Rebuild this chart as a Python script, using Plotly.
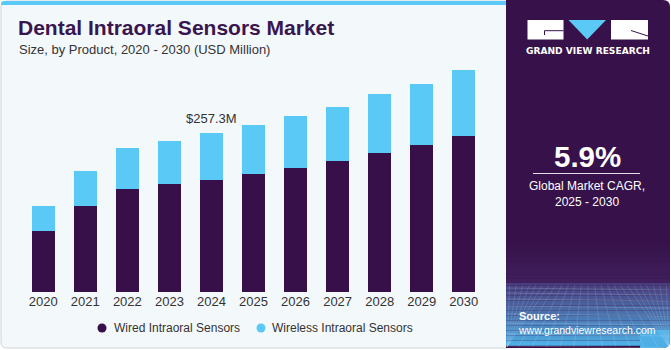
import plotly.graph_objects as go

# ---------------- data ----------------
years = ["2020", "2021", "2022", "2023", "2024", "2025", "2026", "2027", "2028", "2029", "2030"]
wired = [98.9, 139.9, 167.0, 174.6, 182.1, 191.8, 201.5, 212.9, 225.8, 237.8, 252.9]
wireless = [40.5, 55.7, 66.4, 70.2, 75.2, 78.4, 83.3, 87.0, 94.7, 99.4, 106.5]
series_names = ["Wired Intraoral Sensors", "Wireless Intraoral Sensors"]
highlight_year = "2024"

W, H = 671, 350
C_WIRED = "#37104a"
C_WIRELESS = "#5bc9f6"
C_PANEL = "#37124a"
C_BG = "#f3f8fb"


def px(x):
    return x / W


def py(y):
    return 1 - y / H


def rpath(x0, y0, x1, y1, r, tl=True, tr=True, br=True, bl=True):
    def P(x, y):
        return f"{px(x):.5f},{py(y):.5f}"
    s = f"M {P(x0 + (r if tl else 0), y0)} "
    s += f"L {P(x1 - (r if tr else 0), y0)} "
    if tr:
        s += f"Q {P(x1, y0)} {P(x1, y0 + r)} "
    s += f"L {P(x1, y1 - (r if br else 0))} "
    if br:
        s += f"Q {P(x1, y1)} {P(x1 - r, y1)} "
    s += f"L {P(x0 + (r if bl else 0), y1)} "
    if bl:
        s += f"Q {P(x0, y1)} {P(x0, y1 - r)} "
    s += f"L {P(x0, y0 + (r if tl else 0))} "
    if tl:
        s += f"Q {P(x0, y0)} {P(x0 + r, y0)} "
    s += "Z"
    return s


def mix(c1, c2, t):
    a = [int(c1[i:i + 2], 16) for i in (1, 3, 5)]
    b = [int(c2[i:i + 2], 16) for i in (1, 3, 5)]
    return "#" + "".join(f"{round(a[k] + (b[k] - a[k]) * t):02x}" for k in range(3))


fig = go.Figure()
fig.add_trace(go.Bar(x=years, y=wired, name=series_names[0], marker=dict(color=C_WIRED, line=dict(width=0)),
                     showlegend=False))
fig.add_trace(go.Bar(x=years, y=wireless, name=series_names[1], marker=dict(color=C_WIRELESS, line=dict(width=0)),
                     showlegend=False))

shapes = []
# card background (left)
shapes.append(dict(type="path", path=rpath(1, 1, 512, 348, 6), xref="paper", yref="paper",
                   fillcolor=C_BG, line=dict(color="#cfd4d8", width=1), layer="below"))
# top blue stripe
shapes.append(dict(type="path", path=rpath(1, 1, 512, 5, 3, br=False, bl=False), xref="paper", yref="paper",
                   fillcolor=C_WIRELESS, line=dict(width=0), layer="below"))
# right panel
shapes.append(dict(type="path", path=rpath(506, 0, 670, 348, 7, tl=False, bl=False), xref="paper", yref="paper",
                   fillcolor=C_PANEL, line=dict(width=0), layer="below"))
# gradient bands on right panel
n1 = 10
for i in range(n1):
    y0 = 240 + i * 4.3
    shapes.append(dict(type="rect", x0=px(506), x1=px(670), y0=py(y0), y1=py(y0 + 4.4), xref="paper", yref="paper",
                       fillcolor=mix(C_PANEL, "#3f1f5c", i / (n1 - 1)), line=dict(width=0), layer="below"))
n2 = 26
for i in range(n2):
    y0 = 283 + i * 2.5
    y1 = min(y0 + 2.6, 348 - (6 if i == n2 - 1 else 0))
    shapes.append(dict(type="rect", x0=px(506), x1=px(670 - (0 if i < n2 - 2 else 3)), y0=py(y0), y1=py(y1),
                       xref="paper", yref="paper",
                       fillcolor=mix("#483c7c", "#4eafe6", i / (n2 - 1)), line=dict(width=0), layer="below"))
# rounded bottom-right corner cap
shapes.append(dict(type="path", path=rpath(640, 330, 670, 348, 7, tl=False, tr=False, bl=False), xref="paper",
                   yref="paper", fillcolor="#4eafe6", line=dict(width=0), layer="below"))
# grid texture
for yy in [288, 293, 299, 306, 314, 323, 334, 346]:
    shapes.append(dict(type="line", x0=px(507), x1=px(669), y0=py(yy), y1=py(yy + 2), xref="paper", yref="paper",
                       line=dict(color="rgba(255,255,255,0.16)", width=1), layer="below"))
vx, vy = 588, 230
for xb in range(420, 760, 14):
    t = (285 - vy) / (348 - vy)
    xt = vx + (xb - vx) * t
    shapes.append(dict(type="line", x0=px(max(507, min(669, xt))), x1=px(max(507, min(669, xb))),
                       y0=py(285), y1=py(347), xref="paper", yref="paper",
                       line=dict(color="rgba(255,255,255,0.12)", width=1), layer="below"))
# logo
shapes.append(dict(type="rect", x0=px(527.5), x1=px(563.5), y0=py(20), y1=py(39.5), xref="paper", yref="paper",
                   fillcolor="white", line=dict(width=0)))
shapes.append(dict(type="path", path=f"M {px(568.5)},{py(20)} L {px(606)},{py(20)} L {px(587.2)},{py(39.5)} Z",
                   xref="paper", yref="paper", fillcolor=C_WIRELESS, line=dict(width=0)))
shapes.append(dict(type="rect", x0=px(611), x1=px(648), y0=py(20), y1=py(39.5), xref="paper", yref="paper",
                   fillcolor="white", line=dict(width=0)))
shapes.append(dict(type="path", path=f"M {px(544.5)},{py(35)} L {px(544.5)},{py(30.7)} L {px(563.5)},{py(30.7)}",
                   xref="paper", yref="paper", line=dict(color=C_PANEL, width=1)))
shapes.append(dict(type="line", x0=px(631), y0=py(30.5), x1=px(648), y1=py(36), xref="paper", yref="paper",
                   line=dict(color=C_PANEL, width=1)))
# CAGR separator
shapes.append(dict(type="line", x0=px(533), x1=px(640), y0=py(173.5), y1=py(173.5), xref="paper", yref="paper",
                   line=dict(color="rgba(255,255,255,0.85)", width=1)))
# legend circles
for cx, col in [(102, C_WIRED), (261, C_WIRELESS)]:
    shapes.append(dict(type="circle", x0=px(cx - 4.5), x1=px(cx + 4.5), y0=py(323.5), y1=py(332.5),
                       xref="paper", yref="paper", fillcolor=col, line=dict(width=0)))

FONT = "Liberation Sans, Arial, sans-serif"
ann = []
ann.append(dict(text="<b>Dental Intraoral Sensors Market</b>", x=px(16), y=py(28), xanchor="left", yanchor="middle",
                font=dict(family=FONT, size=21, color="#3a1651")))
ann.append(dict(text="Size, by Product, 2020 - 2030 (USD Million)", x=px(16.5), y=py(50), xanchor="left",
                yanchor="middle", font=dict(family=FONT, size=13, color="#333333")))
hi = years.index(highlight_year)
total_h = wired[hi] + wireless[hi]
ann.append(dict(text=f"${total_h:.1f}M", x=hi, y=total_h, xref="x", yref="y", xanchor="center",
                yanchor="bottom", yshift=5, showarrow=False, font=dict(family=FONT, size=13, color="#333333")))
ann.append(dict(text=series_names[0], x=px(112), y=py(328), xanchor="left", yanchor="middle",
                font=dict(family=FONT, size=12, color="#333333")))
ann.append(dict(text=series_names[1], x=px(270), y=py(328), xanchor="left", yanchor="middle",
                font=dict(family=FONT, size=12, color="#333333")))
ann.append(dict(text="<b>GRAND VIEW RESEARCH</b>", x=px(587.5), y=py(51.5), xanchor="center", yanchor="middle",
                font=dict(family="DejaVu Sans", size=9.1, color="white")))
ann.append(dict(text="<b>5.9%</b>", x=px(587.5), y=py(156), xanchor="center", yanchor="middle",
                font=dict(family=FONT, size=29.5, color="white")))
ann.append(dict(text="Global Market CAGR,", x=px(587), y=py(185.5), xanchor="center", yanchor="middle",
                font=dict(family=FONT, size=12, color="white")))
ann.append(dict(text="2025 - 2030", x=px(587), y=py(201.5), xanchor="center", yanchor="middle",
                font=dict(family=FONT, size=12, color="white")))
ann.append(dict(text="<b>Source:</b>", x=px(516.5), y=py(316), xanchor="left", yanchor="middle",
                font=dict(family=FONT, size=11, color="white")))
ann.append(dict(text="www.grandviewresearch.com", x=px(516), y=py(330), xanchor="left", yanchor="middle",
                font=dict(family=FONT, size=10.5, color="white")))
for a in ann:
    a.setdefault("xref", "paper")
    a.setdefault("yref", "paper")
    a.setdefault("showarrow", False)

fig.update_layout(
    width=W, height=H,
    margin=dict(l=0, r=0, t=0, b=0),
    barmode="stack", bargap=0.453,
    paper_bgcolor="white", plot_bgcolor="rgba(0,0,0,0)",
    shapes=shapes, annotations=ann,
    showlegend=False,
    xaxis=dict(domain=[px(22.2), px(484.8)], type="category", range=[-0.5, len(years) - 0.5],
               showgrid=False, zeroline=False, showline=False,
               ticks="", tickfont=dict(family=FONT, size=13, color="#333333"), automargin=False),
    yaxis=dict(domain=[py(292), py(60)], range=[0, (292 - 60) * 257.3 / 158.7], visible=False,
               showgrid=False, zeroline=False, automargin=False),
    font=dict(family=FONT),
)

fig.write_html("out.html")
